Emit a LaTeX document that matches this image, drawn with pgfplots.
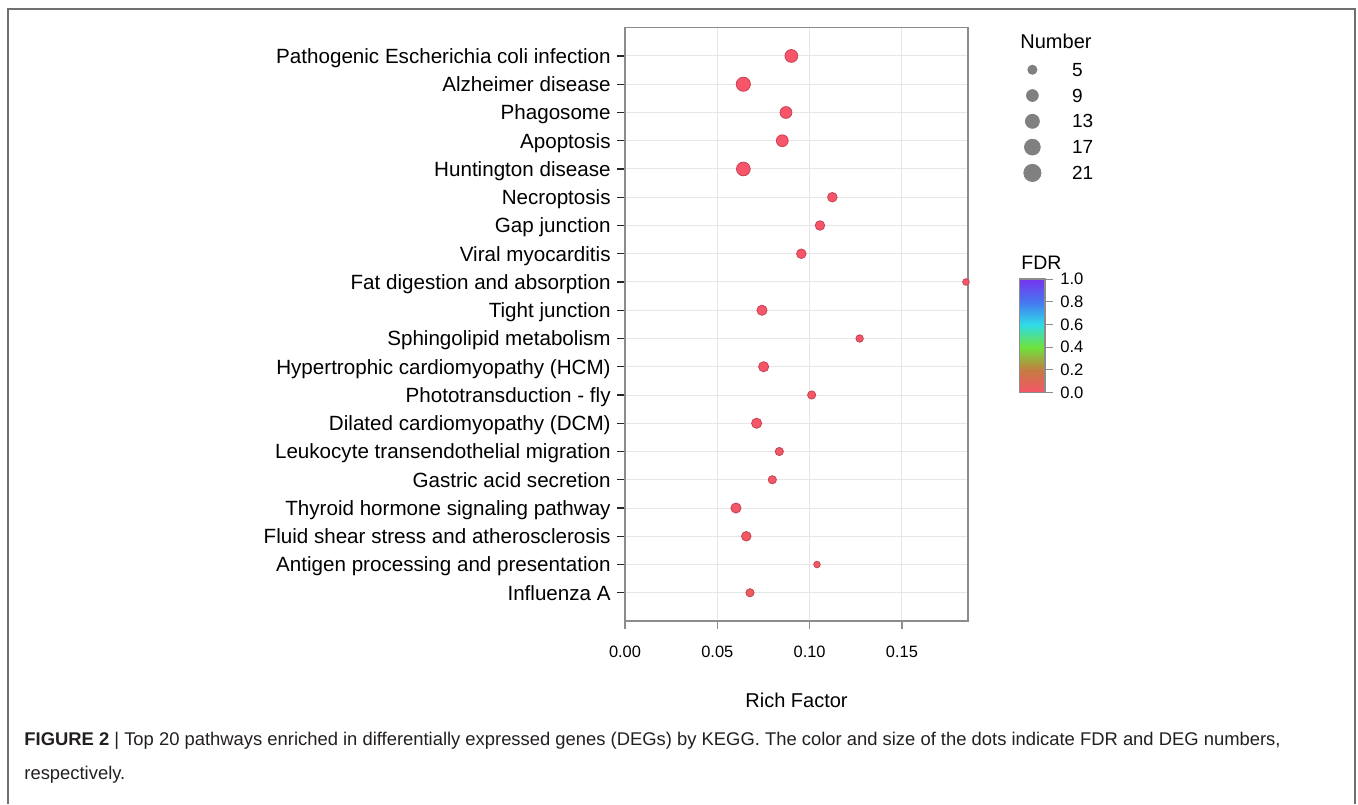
\documentclass[border=0pt]{standalone}
\usepackage{fontspec}
\setmainfont{Liberation Sans}
\usepackage{pgfplots}
\pgfplotsset{compat=1.18}
\usepackage{pgfplotstable}

\definecolor{axisgray}{RGB}{140,140,140}
\definecolor{gridgray}{RGB}{230,230,230}
\definecolor{numgray}{RGB}{128,128,128}
\definecolor{captext}{RGB}{35,31,32}

\pgfplotsset{
  /pgf/number format/assume math mode=true,
  numkey/.style={legend image code/.code={\draw[mark=*,mark size=#1,numgray] plot coordinates {(0pt,0pt)};}},
}

% y = row (top to bottom), x = rich factor, n = DEG number, fdr
\pgfplotstableread{
y x n fdr
1  0.0901 13 0.000
2  0.0641 16 0.000
3  0.0872 11 0.000
4  0.0852 11 0.000
5  0.0641 15 0.000
6  0.1123 7  0.000
7  0.1056 7  0.001
8  0.0955 7  0.002
9  0.1847 3  0.003
10 0.0742 8  0.005
11 0.1271 4  0.006
12 0.0751 8  0.007
13 0.1011 5  0.008
14 0.0713 8  0.009
15 0.0836 5  0.012
16 0.0798 5  0.015
17 0.0601 8  0.016
18 0.0657 7  0.018
19 0.1040 3  0.020
20 0.0677 5  0.040
}\keggdata

\begin{document}
\begin{tikzpicture}
\path[use as bounding box] (0,0) rectangle (679pt,-402pt);
\begin{scope}[x=0.5pt,y=-0.5pt]
  \draw[axisgray!80!black, line width=0.75pt] (8,804) -- (8,9) -- (1355,9) -- (1355,804);
  \node[anchor=base west, inner sep=0pt, font=\fontsize{9.2}{11}\selectfont, text=captext] at (24,745)
    {\textbf{FIGURE 2} | Top 20 pathways enriched in differentially expressed genes (DEGs) by KEGG. The color and size of the dots indicate FDR and DEG numbers,};
  \node[anchor=base west, inner sep=0pt, font=\fontsize{9.2}{11}\selectfont, text=captext] at (24,779) {respectively.};
  \node[anchor=west, inner sep=0pt, font=\fontsize{10}{12}\selectfont] at (1020,41) {Number};
\end{scope}

\begin{axis}[
  at={(312.5pt,-310.5pt)}, anchor=south west,
  scale only axis, width=171.5pt, height=296.65pt,
  xmin=0, xmax=0.1858, ymin=0, ymax=21, y dir=reverse,
  clip=false,
  xtick={0,0.05,0.1,0.15}, scaled x ticks=false,
  xticklabel style={/pgf/number format/.cd, fixed, fixed zerofill, precision=2, /tikz/.cd,
    font=\fontsize{8.2}{10}\selectfont, anchor=north, inner sep=0pt},
  xticklabel shift=8.4pt,
  ytick={1,...,20},
  yticklabels={Pathogenic Escherichia coli infection, Alzheimer disease, Phagosome, Apoptosis,
    Huntington disease, Necroptosis, Gap junction, Viral myocarditis, Fat digestion and absorption,
    Tight junction, Sphingolipid metabolism, Hypertrophic cardiomyopathy (HCM),
    Phototransduction - fly, Dilated cardiomyopathy (DCM), Leukocyte transendothelial migration,
    Gastric acid secretion, Thyroid hormone signaling pathway, Fluid shear stress and atherosclerosis,
    Antigen processing and presentation, Influenza A},
  yticklabel style={font=\fontsize{10.3}{12}\selectfont, anchor=east, inner sep=0pt,
    text height=7.37pt, text depth=0pt},
  yticklabel shift=3pt,
  xtick pos=left, ytick pos=left,
  tick align=outside, major tick length=4pt,
  xtick style={axisgray, line width=0.6pt},
  ytick style={black!85, line width=0.55pt},
  grid=major, grid style={gridgray, line width=0.5pt},
  axis line style={axisgray, line width=0.75pt},
  xlabel={Rich Factor},
  xlabel style={at={(axis description cs:0.5,0)}, anchor=center, yshift=-39.5pt,
    font=\fontsize{10}{12}\selectfont},
  colormap={fdr}{rgb255(0cm)=(248,84,106); rgb255(1cm)=(196,124,64); rgb255(2cm)=(110,226,60);
    rgb255(3cm)=(46,220,232); rgb255(4cm)=(70,118,240); rgb255(5cm)=(118,52,238)},
  colormap name=fdr,
  point meta min=0, point meta max=1,
  colorbar,
  colorbar style={
    at={(parent axis.north east)}, anchor=north west, xshift=17.1pt, yshift=-125.65pt,
    width=12.85pt, height=56.85pt,
    ytick={0,0.2,0.4,0.6,0.8,1}, ytick pos=right, yticklabel pos=right,
    yticklabel style={/pgf/number format/.cd, fixed, fixed zerofill, precision=1, /tikz/.cd,
      font=\fontsize{8.3}{10}\selectfont, anchor=west, inner sep=0pt},
    yticklabel shift=3.5pt,
    tick align=outside, major tick length=4pt,
    ytick style={axisgray, line width=0.5pt},
    axis line style={axisgray, line width=0.6pt},
    title={FDR},
    title style={at={(0,1)}, anchor=south west, inner sep=0pt, xshift=0.85pt, yshift=-1.5pt,
      font=\fontsize{9.75}{11}\selectfont},
  },
  legend cell align=left,
  legend style={at={(axis description cs:1.1615,0.9516)}, anchor=north west,
    draw=none, fill=none, inner sep=0pt, column sep=15.5pt, row sep=0pt,
    font=\fontsize{9.5}{11}\selectfont,
    nodes={inner sep=0pt, text depth=0pt, minimum height=12.9pt}},
]
\addlegendimage{numkey=2.3pt}\addlegendentry{5}
\addlegendimage{numkey=2.95pt}\addlegendentry{9}
\addlegendimage{numkey=3.5pt}\addlegendentry{13}
\addlegendimage{numkey=3.95pt}\addlegendentry{17}
\addlegendimage{numkey=4.3pt}\addlegendentry{21}

\addplot[scatter, only marks, mark=*, forget plot,
  point meta=\thisrow{fdr},
  visualization depends on={\thisrow{n} \as \nval},
  scatter/@pre marker code/.append style={/tikz/mark size={0.25*sqrt(16+13*\nval)-0.2}}]
  table[x=x, y=y] {\keggdata};
\end{axis}
\end{tikzpicture}
\end{document}
